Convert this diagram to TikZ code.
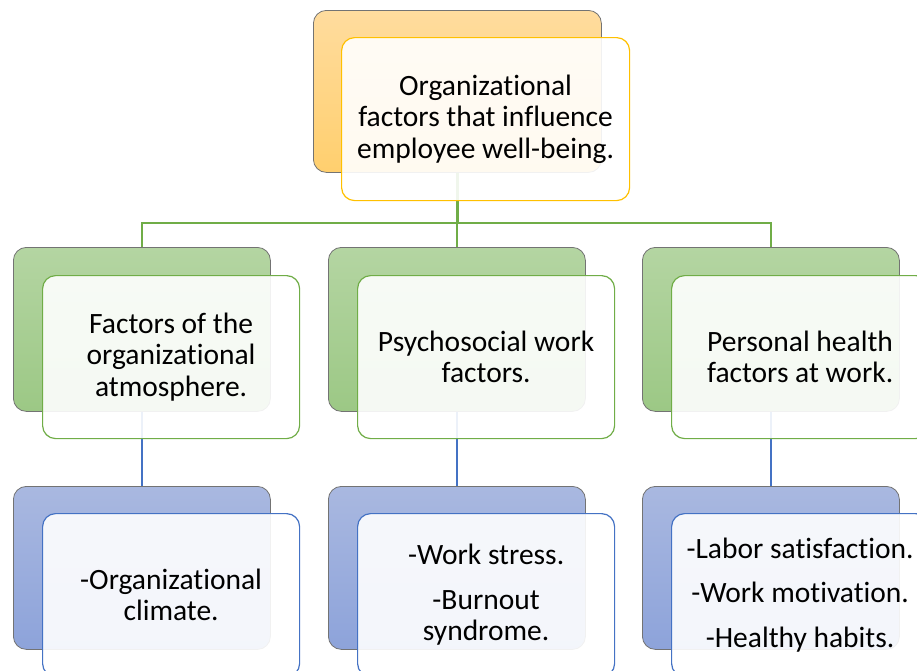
\documentclass[tikz,border=0pt]{standalone}
\usepackage{fontspec}
\setmainfont{Carlito}[Ligatures={NoCommon,NoRare,NoContextual}]

\definecolor{accorange}{HTML}{FFC000}
\definecolor{accgreen}{HTML}{70AD47}
\definecolor{accblue}{HTML}{4472C4}
\definecolor{orangetop}{HTML}{FFDC9E}
\definecolor{orangebot}{HTML}{FFCF6E}
\definecolor{greentop}{HTML}{B4D5A2}
\definecolor{greenbot}{HTML}{9CC885}
\definecolor{bluetop}{HTML}{A9B8E0}
\definecolor{bluebot}{HTML}{8DA3DA}

\tikzset{
  backbox/.style={draw=black!55, line width=0.8pt, rounded corners=13pt,
    minimum width=257pt, minimum height=164pt, anchor=north west, inner sep=0pt},
  orangeback/.style={top color=orangetop, bottom color=orangebot},
  greenback/.style={top color=greentop, bottom color=greenbot},
  blueback/.style={top color=bluetop, bottom color=bluebot},
  frontbox/.style={fill=white, fill opacity=0.9, text opacity=1, line width=1.2pt,
    rounded corners=13pt, minimum width=257pt, minimum height=163pt,
    anchor=north west, align=center, inner sep=0pt,
    font=\fontsize{29.5}{31.5}\selectfont},
  greenline/.style={draw=accgreen, line width=2.2pt},
  blueline/.style={draw=accblue, line width=2.2pt}
}

\begin{document}
\begin{tikzpicture}[x=1pt,y=-1pt]
\useasboundingbox (0,0) rectangle (917,670);

% cajas traseras
\node[backbox, orangeback, minimum width=288pt, minimum height=162pt] (topback) at (313,10) {};
\foreach \i/\x in {1/13,2/328,3/642} {
  \node[backbox, greenback] (midback\i) at (\x,247) {};
  \node[backbox, blueback, minimum height=163pt] (lowback\i) at (\x,486) {};
}

% conectores
\coordinate (bus) at (0,223);
\foreach \i in {1,2,3}
  \draw[greenline] (topback.south) -- (topback.south |- bus) -| (midback\i.north);
\foreach \i in {1,2,3}
  \draw[blueline] (midback\i.south) -- (lowback\i.north);

% cajas delanteras
\node[frontbox, draw=accorange, minimum width=288pt] (topfront) at (341,37)
  {Organizational\\factors that influence\\employee well-being.};

\node[frontbox, draw=accgreen] (midfront1) at (42,275)
  {Factors of the\\organizational\\atmosphere.};
\node[frontbox, draw=accgreen] (midfront2) at (357,275)
  {Psychosocial work\\factors.};
\node[frontbox, draw=accgreen] (midfront3) at (671,275)
  {Personal health\\factors at work.};

\node[frontbox, draw=accblue] (lowfront1) at (42,513)
  {-Organizational\\climate.};
\node[frontbox, draw=accblue] (lowfront2) at (357,513)
  {-Work stress.\\[13pt]-Burnout\\syndrome.};
\node[frontbox, draw=accblue] (lowfront3) at (671,513)
  {-Labor satisfaction.\\[13pt]-Work motivation.\\[13pt]-Healthy habits.};
\end{tikzpicture}
\end{document}
